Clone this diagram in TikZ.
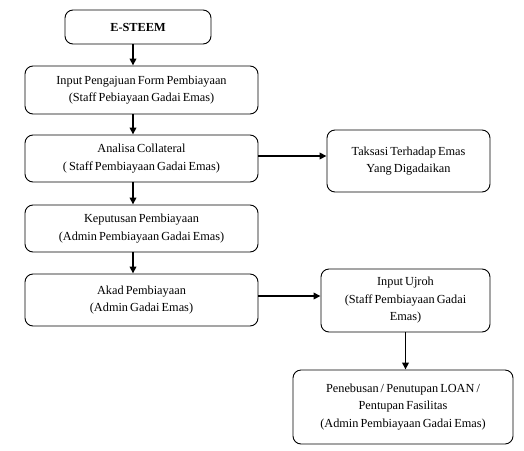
\documentclass[tikz,border=0pt]{standalone}
\usepackage{fontspec}
\setmainfont{Liberation Serif}
\usetikzlibrary{arrows.meta}
\newcommand{\boxfont}{\fontsize{12.3}{17.5}\selectfont\spaceskip=0.17em\relax}
\begin{document}
\begin{tikzpicture}[x=1pt,y=-1pt,
  box/.style={draw=black, line width=0.9pt, rounded corners=8pt, align=center,
    inner sep=0pt, font=\boxfont},
  conn/.style={line width=1.7pt, -{Triangle[length=7pt,width=6.5pt]}}]
\useasboundingbox (0,0) rectangle (524,450);
\node[box, minimum width=146pt, minimum height=34pt, font=\boxfont\bfseries] (estem) at (138,27) {E-STEEM};
\node[box, minimum width=233pt, minimum height=48pt] (input) at (141.5,90) {Input Pengajuan Form Pembiayaan\\ (Staff Pebiayaan Gadai Emas)};
\node[box, minimum width=233pt, minimum height=47pt] (analisa) at (141.5,158.5) {Analisa Collateral\\( Staff Pembiayaan Gadai Emas)};
\node[box, minimum width=233pt, minimum height=47pt] (keputusan) at (141.5,228.5) {Keputusan Pembiayaan\\(Admin Pembiayaan Gadai Emas)};
\node[box, minimum width=233pt, minimum height=52pt] (akad) at (141.5,300) {Akad Pembiayaan\\(Admin Gadai Emas)};
\node[box, minimum width=163pt, minimum height=62pt] (taksasi) at (408.5,161) {Taksasi Terhadap Emas\\ Yang Digadaikan};
\node[box, minimum width=169pt, minimum height=63pt] (ujroh) at (405.5,300.5) {Input Ujroh\\ (Staff Pembiayaan Gadai\\ Emas)};
\node[box, minimum width=220pt, minimum height=74pt] (penebusan) at (403,407) {Penebusan / Penutupan LOAN /\\ Pentupan Fasilitas\\(Admin Pembiayaan Gadai Emas)};
\coordinate (ax) at (133,0);
\coordinate (h1) at (0,156);
\coordinate (h2) at (0,296);
\draw[conn] (estem.south -| ax) -- (input.north -| ax);
\draw[conn] (input.south -| ax) -- (analisa.north -| ax);
\draw[conn] (analisa.south -| ax) -- (keputusan.north -| ax);
\draw[conn] (keputusan.south -| ax) -- (akad.north -| ax);
\draw[conn] (analisa.east |- h1) -- (taksasi.west |- h1);
\draw[conn] (akad.east |- h2) -- (ujroh.west |- h2);
\draw[conn] (ujroh.south) -- (penebusan.north -| ujroh.south);
\end{tikzpicture}
\end{document}
